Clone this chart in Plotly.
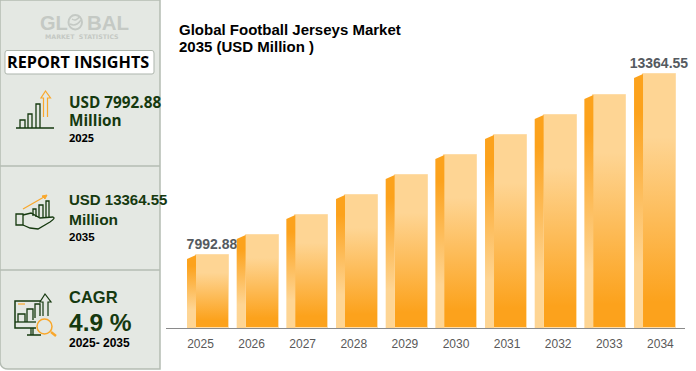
import plotly.graph_objects as go

# ---- data ----
years = ["2025","2026","2027","2028","2029","2030","2031","2032","2033","2034"]
values = [7992.88, 8586, 9180, 9773, 10367, 10961, 11554, 12148, 12742, 13364.55]
labels = ["7992.88","","","","","","","","","13364.55"]
title_lines = ["Global Football Jerseys Market", "2035 (USD Million )"]

W, H = 696, 371
LIGHT, ORANGE = "#FED594", "#FCA21C"
DARK = "#15390F"
AXIS_BASE = 5826

def px(x): return x / W
def py(y): return 1 - y / H
def path(d):
    out = []
    for tok in d:
        if isinstance(tok, str):
            out.append(tok)
        else:
            out.append(f"{px(tok[0]):.5f},{py(tok[1]):.5f}")
    return " ".join(out)

fig = go.Figure()
xs = list(range(len(years)))
BAR_W, SIDE_W, SLANT = 0.664, 0.181, 119

# side faces
for i, v in zip(xs, values):
    r = i - BAR_W / 2
    l = r - SIDE_W
    fig.add_trace(go.Scatter(
        x=[l, r, r, l, l], y=[v - SLANT, v, AXIS_BASE, AXIS_BASE, v - SLANT],
        mode="none", fill="toself", hoverinfo="skip", showlegend=False,
        fillgradient=dict(type="vertical",
                          colorscale=[[0, LIGHT], [0.25, LIGHT], [0.85, ORANGE], [1, ORANGE]])))

# front faces
fig.add_trace(go.Bar(
    x=xs, y=[v - AXIS_BASE for v in values], base=AXIS_BASE, width=BAR_W, showlegend=False, name="front",
    marker=dict(color=ORANGE, line=dict(width=1, color="#FEDDA9")),
    text=labels, textposition="outside", textangle=0, cliponaxis=False, constraintext="none",
    textfont=dict(family="Liberation Sans", size=14, color="#555A60", weight="bold")))

shapes, ann = [], []
def pth(d, color=DARK, lw=1.3, fill=None):
    shapes.append(dict(type="path", xref="paper", yref="paper", path=path(d),
                       line=dict(color=color, width=lw), fillcolor=fill or "rgba(0,0,0,0)"))
def txt(x, y, s, size, color=DARK, fam="Open Sans", anchor="left", weight="bold"):
    ann.append(dict(xref="paper", yref="paper", x=px(x), y=py(y), text=s, showarrow=False,
                    xanchor=anchor, yanchor="middle", align="left",
                    font=dict(family=fam, size=size, color=color, weight=weight)))

# left panel
PANEL, EDGE = "#E4E8E3", "#B4BCB3"
pth(["M",(0,0),"L",(160,0),"L",(160,369),"L",(8,369),"Q",(1,369),(0,362),"Z"], EDGE, 1.5, PANEL)
pth(["M",(0,166),"L",(160,166)], EDGE, 1.5)
pth(["M",(0,270),"L",(160,270)], EDGE, 1.5)

# logo
LOGO = "#C4C9C4"
txt(38, 23, "GL", 20, LOGO, "Liberation Sans")
txt(85, 23, "BAL", 20.5, LOGO, "Liberation Sans")
shapes.append(dict(type="circle", xref="paper", yref="paper", x0=px(68.5), x1=px(82),
                   y0=py(29.5), y1=py(15), line=dict(color=LOGO, width=2),
                   fillcolor="rgba(0,0,0,0)"))
pth(["M",(70,24),"Q",(76,27),(81,20)], LOGO, 1.5)
pth(["M",(72,19),"Q",(76,22),(80,16)], LOGO, 1.5)
txt(82, 36.5, "MARKET  STATISTICS", 6.3, LOGO, "DejaVu Sans", "center")

# report box
pth(["M",(7,50.5),"L",(152,50.5),"Q",(154,50.5),(154,53),"L",(154,72),"Q",(154,74),(152,74),
     "L",(7,74),"Q",(5,74),(5,72),"L",(5,53),"Q",(5,50.5),(7,50.5),"Z"], "#AEB6AD", 1, "#FFFFFF")
txt(77.5, 62, "REPORT INSIGHTS", 16.2, "#000000", "Open Sans", "center", 700)

# text blocks
txt(67, 102, "USD 7992.88", 15.3)
txt(67, 120, "Million", 15.3)
txt(67, 137, "2025", 11, "#000000")
txt(67, 199, "USD 13364.55", 15, DARK, "Liberation Sans")
txt(67, 219, "Million", 15.5, DARK, "Liberation Sans")
txt(67, 237, "2035", 11.5, "#000000", "Liberation Sans")
txt(67, 297, "CAGR", 16.5, DARK, "Liberation Sans")
txt(67, 322, "4.9 %", 24.5, DARK, "Liberation Sans")
txt(67, 343, "2025- 2035", 12, "#000000", "Liberation Sans")

# icon 1
pth(["M",(16,128),"L",(54,128)], DARK, 1.5)
pth(["M",(20,128),"L",(20,120),"L",(25,120),"L",(25,128)])
pth(["M",(28,128),"L",(28,114),"L",(32,114),"L",(32,128)])
pth(["M",(36,128),"L",(36,104),"L",(40,104),"L",(40,128)])
pth(["M",(43.5,117),"L",(43.5,98),"L",(41,98),"L",(45.5,91),"L",(50.5,98),"L",(47.5,98),"L",(47.5,117)], "#F9A72B", 1.2)

# icon 2
pth(["M",(23,209),"L",(44,197)], "#F9A72B", 1.2)
pth(["M",(47,195),"L",(42,196),"L",(45,199),"Z"], "#F9A72B", 1, "#F9A72B")
pth(["M",(16,214),"L",(23,214),"L",(23,225),"L",(16,225),"Z"])
pth(["M",(23,215),"L",(31,213),"L",(40,218),"L",(53,217),"Q",(56,218),(50,222),"L",(38,229),"L",(30,228),"L",(23,225)])
pth(["M",(33,216),"L",(33,209),"L",(36,209),"L",(36,217)])
pth(["M",(39,217),"L",(39,205),"L",(43,205),"L",(43,217)])
pth(["M",(46,217),"L",(46,201),"L",(49,201),"L",(49,217)])

# icon 3
pth(["M",(41,301),"L",(15,301),"L",(15,328),"L",(36,328)], DARK, 1.5)
pth(["M",(15,322),"L",(36,322)])
pth(["M",(33,328),"L",(33,335),"M",(27,335),"L",(41,335),"M",(31,335),"L",(31,328)])
pth(["M",(18,322),"L",(18,314),"L",(25,314),"L",(25,322)])
pth(["M",(27,322),"L",(27,309),"L",(33,309),"L",(33,320)])
pth(["M",(35,318),"L",(35,304),"L",(40,304),"L",(40,316)])
pth(["M",(43,316),"L",(43,302),"L",(40,302),"L",(45,294),"L",(51,302),"L",(48,302),"L",(48,316)], DARK, 1.2)
pth(["M",(18,304),"L",(25,304)], "#F9A72B", 1.2)
shapes.append(dict(type="circle", xref="paper", yref="paper", x0=px(37), x1=px(52),
                   y0=py(334), y1=py(319), line=dict(color="#F9A72B", width=1.5),
                   fillcolor=PANEL))
pth(["M",(51,332),"L",(56,336)], "#F9A72B", 2.5)

# title
for k, line in enumerate(title_lines):
    txt(177, 29 + 18 * k, line, 15, "#000000", "Liberation Sans")

fig.update_layout(
    width=W, height=H, margin=dict(l=0, r=0, t=0, b=0),
    paper_bgcolor="#FFFFFF", plot_bgcolor="#FFFFFF",
    bargap=0, shapes=shapes, annotations=ann, showlegend=False,
    xaxis=dict(domain=[px(166), px(685)], range=[-0.936, 9.513],
               tickmode="array", tickvals=[(i * 51.1 + 200.5 - 212.5) / 49.67 for i in xs],
               ticktext=years, showgrid=False, zeroline=False, ticks="",
               showline=True, linecolor="#8A8A8A", linewidth=1.2,
               tickfont=dict(family="Liberation Sans", size=12, color="#595959"), ticklabelstandoff=4),
    yaxis=dict(domain=[py(328), py(40)], range=[AXIS_BASE, 14374], visible=False),
)

post = """
var gd = document.getElementById('{plot_id}');
document.body.style.margin = '0';
document.documentElement.style.overflow = 'hidden';
function grad() {
  var svg = gd.querySelector('svg.main-svg');
  if (!svg) return;
  if (!document.getElementById('frontGrad')) {
    var ns = 'http://www.w3.org/2000/svg';
    var defs = document.createElementNS(ns, 'defs');
    var g = document.createElementNS(ns, 'linearGradient');
    g.setAttribute('id', 'frontGrad');
    g.setAttribute('x1', '0'); g.setAttribute('y1', '0');
    g.setAttribute('x2', '0'); g.setAttribute('y2', '1');
    [[0, '#FED594'], [0.25, '#FED594'], [0.9, '#FCA21C'], [1, '#FCA21C']].forEach(function (s) {
      var st = document.createElementNS(ns, 'stop');
      st.setAttribute('offset', s[0]); st.setAttribute('stop-color', s[1]);
      g.appendChild(st);
    });
    defs.appendChild(g); svg.appendChild(defs);
  }
  gd.querySelectorAll('.bars .point path').forEach(function (p) {
    p.style.fill = 'url(#frontGrad)';
  });
}
grad();
gd.on('plotly_afterplot', grad);
"""
fig.write_html("out.html", post_script=post, config={"displayModeBar": False})
